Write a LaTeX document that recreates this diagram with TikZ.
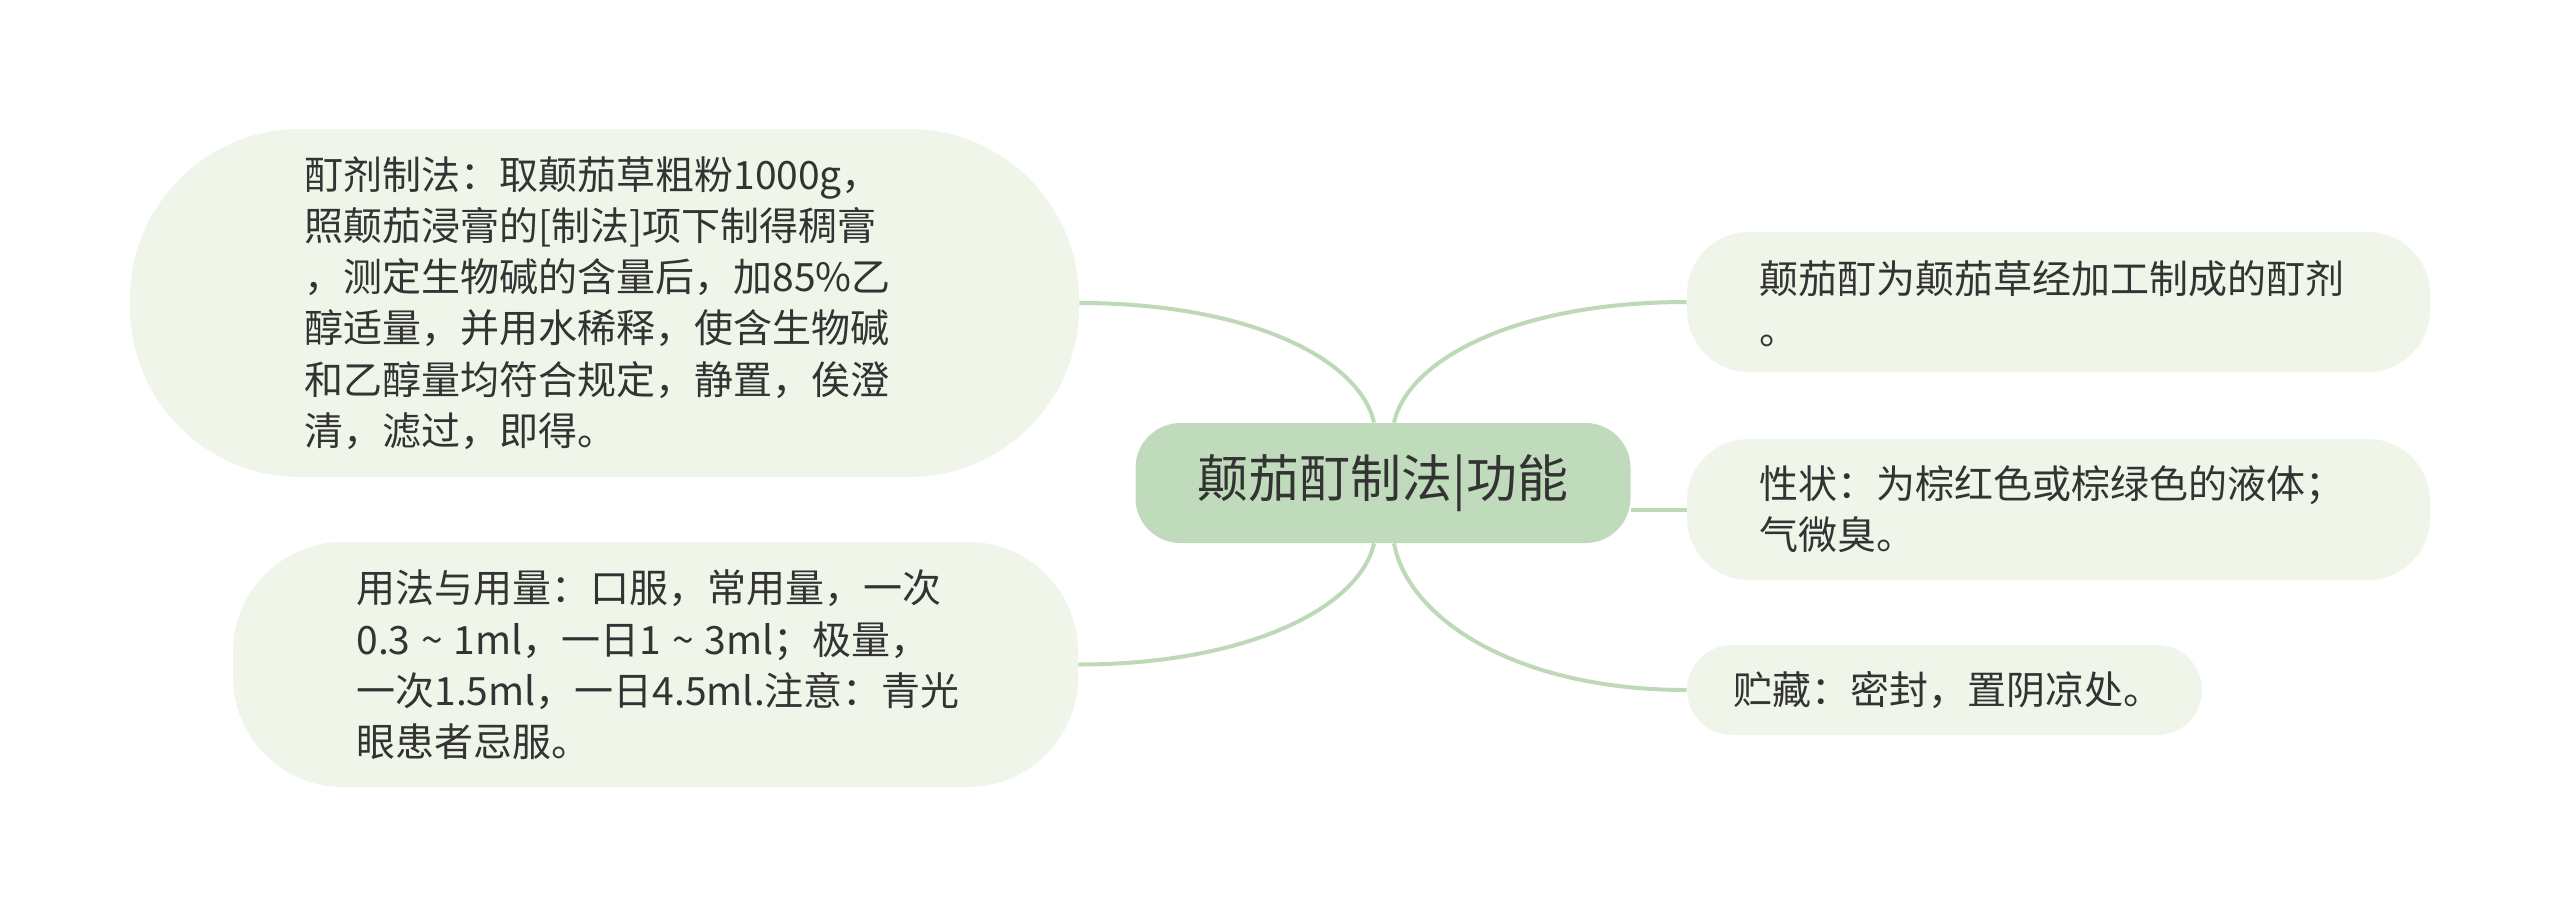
\documentclass[tikz,border=0pt]{standalone}
\usepackage{fontspec}
\newfontfamily\cjk{Noto Sans CJK SC}
\usetikzlibrary{calc}
\definecolor{nodefill}{HTML}{EFF6E9}
\definecolor{rootfill}{HTML}{C0DBBB}
\definecolor{linecol}{HTML}{BDD9B8}
\definecolor{txt}{HTML}{333333}
\pgfdeclarelayer{bg}
\pgfsetlayers{bg,main}
\newcommand{\tld}{\hspace{0.28em}\textasciitilde\hspace{0.28em}}
\begin{document}
\begin{tikzpicture}[x=0.5pt,y=-0.5pt,
  topic/.style={fill=nodefill, draw=none, inner sep=0pt, rectangle},
  root/.style={fill=rootfill, draw=none, inner sep=0pt, rectangle, rounded corners=22.5pt,
    minimum width=247.5pt, minimum height=60pt, text=txt,
    font=\cjk\fontsize{25.5pt}{30pt}\selectfont},
  label/.style={anchor=west, inner sep=0pt, align=left, text=txt,
    font=\cjk\fontsize{19.5pt}{25.65pt}\selectfont},
  conn/.style={draw=linecol, line width=2pt}]
\useasboundingbox (0,0) rectangle (2560,916);

% central topic
\node[root] (c) at (1383,483) {颠茄酊制法|功能};

% branch boxes
\node[topic, rounded corners=85pt, minimum width=474.5pt, minimum height=174pt] (l1) at (604.5,303) {};
\node[topic, rounded corners=55pt, minimum width=422.5pt, minimum height=122.5pt] (l2) at (655.5,664.5) {};
\node[topic, rounded corners=31pt, minimum width=371.5pt, minimum height=70pt] (r1) at (2058.5,302) {};
\node[topic, rounded corners=31pt, minimum width=371.5pt, minimum height=70.5pt] (r2) at (2058.5,509.5) {};
\node[topic, rounded corners=22.5pt, minimum width=257.5pt, minimum height=45pt] (r3) at (1944.5,690) {};

% texts
\node[label] (l1t) at (304,303) {酊剂制法：取颠茄草粗粉1000g，\\照颠茄浸膏的[制法]项下制得稠膏\\，测定生物碱的含量后，加85\%乙\\醇适量，并用水稀释，使含生物碱\\和乙醇量均符合规定，静置，俟澄\\清，滤过，即得。};
\node[label] (l2t) at (356,665) {用法与用量：口服，常用量，一次\\0.3\tld 1ml，一日1\tld 3ml；极量，\\一次1.5ml，一日4.5ml.注意：青光\\眼患者忌服。};
\node[label] (r1t) at (1759,303.5) {颠茄酊为颠茄草经加工制成的酊剂\\。};
\node[label] (r2t) at (1759,509) {性状：为棕红色或棕绿色的液体；\\气微臭。};
\node[label] (r3t) at (1733,690) {贮藏：密封，置阴凉处。};

% background and connectors
\begin{pgfonlayer}{bg}
\fill[white] (0,0) rectangle (2560,916);
\draw[conn] ($(c.north)+(-9,0)$) .. controls +(-14,-63) and +(171,0) .. (l1.east);
\draw[conn] ($(c.north)+(11,0)$) .. controls +(14,-63) and +(-171,0) .. (r1.west);
\draw[conn] ($(c.south)+(-9,0)$) .. controls +(-14,63) and +(171,0) .. (l2.east);
\draw[conn] ($(c.south)+(11,0)$) .. controls +(14,75) and +(-171,0) .. (r3.west);
\draw[conn] (c.east |- r2.west) -- (r2.west);
\end{pgfonlayer}
\end{tikzpicture}
\end{document}
